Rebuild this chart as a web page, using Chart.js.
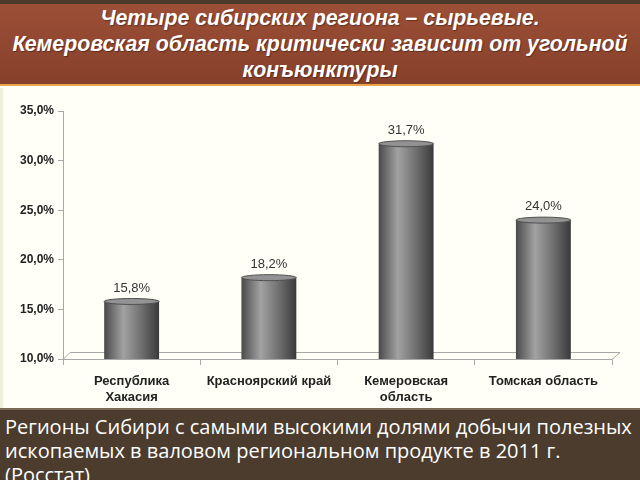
<!DOCTYPE html>
<html>
<head>
<meta charset="utf-8">
<script src="https://cdn.jsdelivr.net/npm/chart.js@4.4.0/dist/chart.umd.min.js"></script>
<style>
  html, body { margin: 0; padding: 0; width: 640px; height: 480px; overflow: hidden; background: #fffff8; }
  #head {
    position: absolute; left: 0; top: 0; width: 640px; height: 86px;
    background: linear-gradient(#9c4f36, #86402b);
    border-top: 4px solid #4a3a2c; box-sizing: border-box;
    border-bottom: 2px solid #e8a54a;
    color: #fff; text-align: center; white-space: nowrap;
    font: italic bold 21.3px "Liberation Sans", Arial, sans-serif;
    line-height: 26px; padding-top: 1px;
    text-shadow: 1px 1px 1px rgba(0,0,0,0.35);
  }
  #box { position: absolute; left: 0; top: 88px; width: 640px; height: 320px; background: #fffff8; border-left: 3px solid #f0efd8; box-sizing: border-box; }
  #foot {
    position: absolute; left: 0; top: 408px; width: 640px; height: 72px;
    background: #4b3c2e; color: #fff; box-sizing: border-box;
    border-top: 2px solid #7a6a55; white-space: nowrap;
    font: 20px "Open Sans", sans-serif; line-height: 24px;
    padding: 5px 0 0 5px; overflow: hidden;
  }
  canvas { position: absolute; left: 0; top: 88px; }
</style>
</head>
<body>
<div id="head">Четыре сибирских региона – сырьевые.<br>Кемеровская область критически зависит от угольной<br>конъюнктуры</div>
<div id="box"></div>
<canvas id="c" width="640" height="320"></canvas>
<div id="foot">Регионы Сибири с самыми высокими долями добычи полезных<br>ископаемых в валовом региональном продукте в 2011 г.<br>(Росстат)</div>
<script>
const regions = [['Республика', 'Хакасия'], 'Красноярский край', ['Кемеровская', 'область'], 'Томская область'];
const shares = [15.8, 18.2, 31.7, 24.0];
const yMin = 10, yMax = 35, yStep = 5;

const sans = '"Liberation Sans", Arial, sans-serif';
const fmt = v => v.toFixed(1).replace('.', ',') + '%';

function barFill(ctx) {
  const chart = ctx.chart;
  const a = chart.chartArea;
  if (!a || ctx.dataIndex === undefined) return '#777';
  const cx = chart.scales.x.getPixelForValue(ctx.dataIndex);
  const w = a.width / regions.length * 0.4;
  const g = chart.ctx.createLinearGradient(cx - w / 2, 0, cx + w / 2, 0);
  g.addColorStop(0, '#4a4a4a');
  g.addColorStop(0.35, '#a2a2a2');
  g.addColorStop(0.7, '#6c6c6c');
  g.addColorStop(1, '#3a3a3a');
  return g;
}

const cylinder = {
  id: 'cylinder',
  beforeDatasetsDraw(chart) {
    const {ctx, chartArea: a} = chart;
    ctx.save();
    ctx.strokeStyle = '#a8a8a8';
    ctx.lineWidth = 1;
    ctx.beginPath();
    ctx.moveTo(a.left, a.bottom + 0.5);
    ctx.lineTo(a.left + 7, a.bottom - 6.5);
    ctx.lineTo(a.right + 8, a.bottom - 6.5);
    ctx.lineTo(a.right, a.bottom + 0.5);
    ctx.stroke();
    ctx.restore();
  },
  afterDatasetsDraw(chart) {
    const {ctx} = chart;
    const meta = chart.getDatasetMeta(0);
    ctx.save();
    meta.data.forEach((bar, i) => {
      const r = bar.width / 2;
      ctx.beginPath();
      ctx.ellipse(bar.x, bar.base - 2, r, 3, 0, 0, Math.PI);
      ctx.fillStyle = barFill({chart, dataIndex: i});
      ctx.fill();
      ctx.beginPath();
      ctx.ellipse(bar.x, bar.y, r, 3, 0, 0, Math.PI * 2);
      ctx.fillStyle = '#929292';
      ctx.fill();
      ctx.strokeStyle = '#505050';
      ctx.stroke();
      ctx.fillStyle = '#333';
      ctx.font = '13px ' + sans;
      ctx.textAlign = 'center';
      ctx.textBaseline = 'bottom';
      ctx.fillText(fmt(shares[i]), bar.x, bar.y - 7);
    });
    ctx.restore();
  }
};

new Chart(document.getElementById('c'), {
  type: 'bar',
  data: {
    labels: regions,
    datasets: [{
      data: shares,
      backgroundColor: barFill,
      borderWidth: 0,
      barPercentage: 0.8,
      categoryPercentage: 0.5
    }]
  },
  options: {
    responsive: false,
    animation: false,
    layout: { padding: { top: 23, right: 28, left: 0, bottom: 0 } },
    plugins: { legend: { display: false }, tooltip: { enabled: false } },
    scales: {
      y: {
        min: yMin, max: yMax,
        ticks: { stepSize: yStep, callback: v => fmt(v), color: '#222', padding: 4,
                 font: { family: sans, size: 12, weight: 'bold' } },
        grid: { drawOnChartArea: false, tickLength: 5, color: '#a8a8a8' },
        border: { display: true, color: '#a8a8a8' },
        afterFit: s => { s.width = 63; }
      },
      x: {
        ticks: { color: '#222', padding: 9, maxRotation: 0, minRotation: 0, autoSkip: false,
                 font: { family: sans, size: 13, weight: 'bold', lineHeight: 1.2 } },
        grid: { drawOnChartArea: false, tickLength: 6, color: '#a8a8a8', offset: true },
        border: { color: '#a8a8a8' },
        afterFit: s => { s.height = 49; }
      }
    }
  },
  plugins: [cylinder]
});
</script>
</body>
</html>
